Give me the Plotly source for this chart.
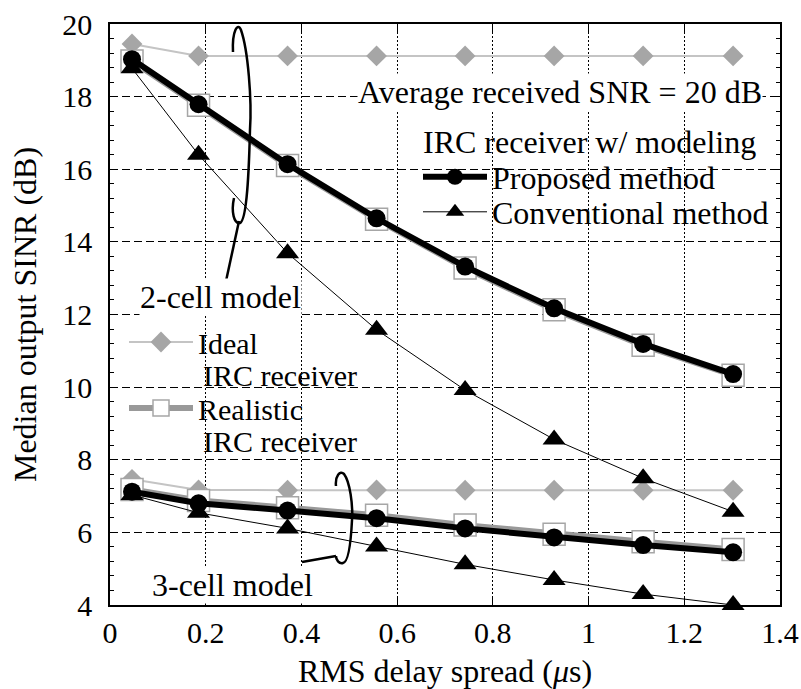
import plotly.graph_objects as go

# ---------------- data ----------------
delay_spread = [0.046, 0.185, 0.371, 0.557, 0.742, 0.928, 1.114, 1.302]

ideal_2cell = [19.45, 19.12, 19.12, 19.12, 19.12, 19.12, 19.12, 19.12]
realistic_2cell = [18.98, 17.76, 16.10, 14.62, 13.28, 12.13, 11.15, 10.33]
proposed_2cell = [19.03, 17.79, 16.14, 14.65, 13.32, 12.17, 11.19, 10.36]
conventional_2cell = [18.78, 16.40, 13.69, 11.58, 9.92, 8.56, 7.49, 6.57]

ideal_3cell = [7.46, 7.17, 7.16, 7.17, 7.16, 7.16, 7.16, 7.16]
realistic_3cell = [7.18, 6.88, 6.68, 6.47, 6.20, 5.95, 5.74, 5.53]
proposed_3cell = [7.12, 6.80, 6.60, 6.39, 6.11, 5.86, 5.65, 5.45]
conventional_3cell = [7.03, 6.54, 6.11, 5.61, 5.12, 4.69, 4.30, 4.00]

x_ticks = [0, 0.2, 0.4, 0.6, 0.8, 1.0, 1.2, 1.4]
x_tick_labels = ["0", "0.2", "0.4", "0.6", "0.8", "1", "1.2", "1.4"]
y_ticks = [4, 6, 8, 10, 12, 14, 16, 18, 20]

# ---------------- geometry ----------------
W, H = 801, 689
ML, MR, MT, MB = 110, 21, 24, 84
X0, X1 = 0.0, 1.4
Y0, Y1 = 4.0, 20.0
PW, PH = W - ML - MR, H - MT - MB

def dx(px):
    return X0 + (px - ML) / PW * (X1 - X0)

def dy(py):
    return Y0 + (MT + PH - py) / PH * (Y1 - Y0)

def fx(px):  # paper fraction from pixel x
    return (px - ML) / PW

def fy(py):  # paper fraction from pixel y
    return (MT + PH - py) / PH

def path(cmds):
    out = []
    for c in cmds:
        op, pts = c[0], c[1:]
        out.append(op + " ".join(f"{dx(a):.4f},{dy(b):.4f}" for a, b in pts))
    return " ".join(out)

FONT = "Liberation Serif, Times New Roman, serif"
FS = 32
FS2 = 30  # tighter block on the left

fig = go.Figure()

def add(xs, ys, name, show, legend, line, marker):
    fig.add_trace(go.Scatter(
        x=xs, y=ys, name=name, mode="lines+markers", showlegend=show,
        legend=legend, line=line, marker=marker, cliponaxis=False,
        hoverinfo="skip"))

ideal_line = dict(color="#c4c4c4", width=2)
ideal_marker = dict(symbol="diamond", size=16, color="#a6a6a6",
                    line=dict(color="#a6a6a6", width=0))
real_line = dict(color="#999999", width=6)
real_marker = dict(symbol="square", size=22, color="white",
                   line=dict(color="#a6a6a6", width=1.5))
prop_line = dict(color="black", width=6)
prop_marker = dict(symbol="circle", size=18, color="black")
conv_line = dict(color="black", width=1)
conv_marker = dict(symbol="triangle-up", size=20, color="black")

add(delay_spread, ideal_2cell, "Ideal", True, "legend2", ideal_line, ideal_marker)
add(delay_spread, ideal_3cell, "Ideal", False, "legend2", ideal_line, ideal_marker)
add(delay_spread, realistic_2cell, "Realistic", True, "legend4", real_line, real_marker)
add(delay_spread, realistic_3cell, "Realistic", False, "legend4", real_line, real_marker)
add(delay_spread, proposed_2cell, "Proposed method", True, "legend", prop_line, prop_marker)
add(delay_spread, proposed_3cell, "Proposed method", False, "legend", prop_line, prop_marker)
add(delay_spread, conventional_2cell, "Conventional method", True, "legend3", conv_line, conv_marker)
add(delay_spread, conventional_3cell, "Conventional method", False, "legend3", conv_line, conv_marker)

# ellipses + leader lines (decorations)
ell2 = path([("M", (233, 52)), ("C", (232, 30), (238, 22), (241, 30)),
             ("C", (248, 50), (252, 100), (250, 130)),
             ("C", (249, 170), (247, 220), (240, 223)),
             ("C", (234, 224), (231, 212), (234, 198))])
lead2 = path([("M", (239, 221)), ("L", (226, 281))])
ell3 = path([("M", (336, 486)), ("C", (335, 476), (340, 470), (344, 474)),
             ("C", (350, 482), (353, 505), (352, 520)),
             ("C", (351, 540), (349, 562), (343, 563)),
             ("C", (339, 564), (336, 560), (336, 556))])
lead3 = path([("M", (336, 556)), ("L", (302, 562))])
shapes = []
for p in (ell2, lead2, ell3, lead3):
    shapes.append(dict(type="path", path=p, xref="x", yref="y",
                       line=dict(color="black", width=2.5), layer="above"))

def txt(text, px, py, xanchor="center", bg="white", size=FS):
    return dict(text=text, x=fx(px), y=fy(py), xref="paper", yref="paper",
                xanchor=xanchor, yanchor="middle",
                showarrow=False, font=dict(family=FONT, size=size, color="black"),
                bgcolor=bg, borderpad=0)

annotations = [
    txt("Average received SNR = 20 dB", 560, 92),
    txt("2-cell model", 220, 297),
    txt("3-cell model", 232, 585),
    txt("IRC receiver w/ modeling", 422, 142, "left", "rgba(0,0,0,0)"),
    txt("IRC receiver", 202, 375, "left", "rgba(0,0,0,0)", FS2),
    txt("IRC receiver", 202, 441, "left", "rgba(0,0,0,0)", FS2),
]

axis_common = dict(showline=True, linecolor="black", linewidth=1.5, mirror="ticks",
                   ticks="inside", tickcolor="black", ticklen=8, zeroline=False,
                   gridcolor="black", gridwidth=1,
                   tickfont=dict(family=FONT, size=30, color="black"))

def leg(px, py, size=FS):
    return dict(x=fx(px), y=fy(py), xanchor="left", yanchor="middle",
                bgcolor="rgba(0,0,0,0)", font=dict(family=FONT, size=size),
                itemwidth=64, tracegroupgap=0)

fig.update_layout(
    width=W, height=H,
    margin=dict(l=ML, r=MR, t=MT, b=MB, autoexpand=False),
    paper_bgcolor="white", plot_bgcolor="white",
    font=dict(family=FONT, size=FS, color="black"),
    xaxis=dict(range=[X0, X1], tickvals=x_ticks, ticktext=x_tick_labels,
               griddash="2px,2px",
               title=dict(text="RMS delay spread (<i>μ</i>s)", standoff=12,
                          font=dict(family=FONT, size=FS)),
               **axis_common),
    yaxis=dict(range=[Y0, Y1], tickvals=y_ticks, griddash="8px,4px",
               ticklabelstandoff=10,
               minor=dict(ticks="inside", ticklen=4, dtick=0.4, tickcolor="black", showgrid=False),
               title=dict(text="Median output SINR (dB)", standoff=16,
                          font=dict(family=FONT, size=FS)),
               **axis_common),
    legend=leg(418, 177),
    legend3=leg(418, 212),
    legend2=leg(124, 342, FS2),
    legend4=leg(124, 408, FS2),
    shapes=shapes,
    annotations=annotations,
)

fig.write_html("out.html")
